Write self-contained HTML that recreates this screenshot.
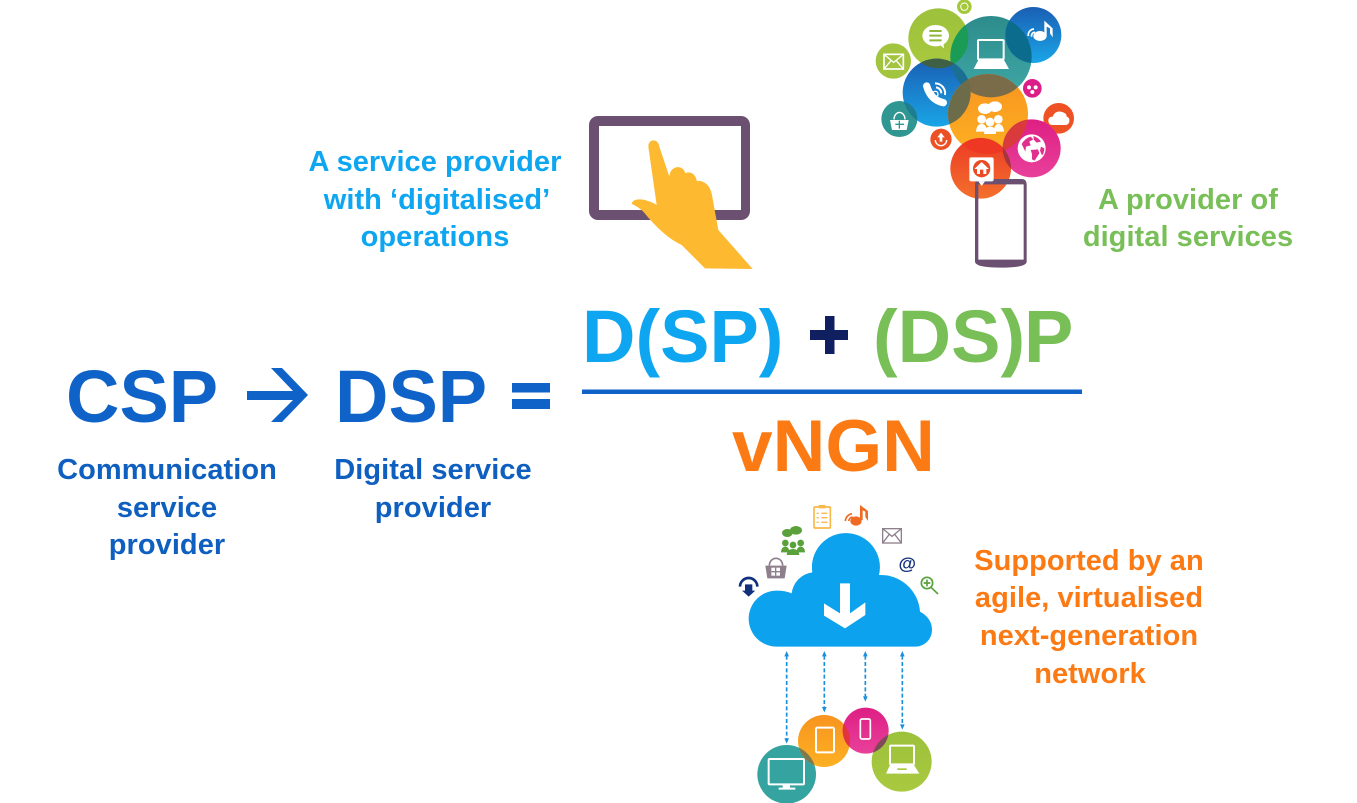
<!DOCTYPE html>
<html><head><meta charset="utf-8"><style>
html,body{margin:0;padding:0;background:#fff;width:1357px;height:803px;overflow:hidden}
svg{display:block}
text{font-family:"Liberation Sans",sans-serif;font-weight:bold}
.b{font-size:74px}.s{font-size:29px;letter-spacing:.05px;text-anchor:middle}
</style></head><body>
<svg width="1357" height="803" viewBox="0 0 1357 803" xmlns="http://www.w3.org/2000/svg">
<defs>
<linearGradient id="gG" x1="0" y1="0" x2="0" y2="1"><stop offset="0" stop-color="#9cc13b"/><stop offset="1" stop-color="#a9c93f"/></linearGradient>
<linearGradient id="gT" x1="0" y1="0" x2="0" y2="1"><stop offset="0" stop-color="#2d8c8c"/><stop offset="1" stop-color="#3fa8a6"/></linearGradient>
<linearGradient id="gB" x1="0" y1="0" x2="0" y2="1"><stop offset="0" stop-color="#1a5fb4"/><stop offset="1" stop-color="#1aa5e6"/></linearGradient>
<linearGradient id="gO" x1="0" y1="0" x2="0" y2="1"><stop offset="0" stop-color="#f79420"/><stop offset="1" stop-color="#fdb022"/></linearGradient>
<linearGradient id="gR" x1="0" y1="0" x2="0" y2="1"><stop offset="0" stop-color="#ec3a25"/><stop offset="1" stop-color="#f3702c"/></linearGradient>
<linearGradient id="gP" x1="0" y1="0" x2="0" y2="1"><stop offset="0" stop-color="#de1f84"/><stop offset="1" stop-color="#e8409a"/></linearGradient>
<clipPath id="cTeal"><circle cx="393" cy="170" r="122"/></clipPath>
<clipPath id="cPhone"><circle cx="230" cy="278" r="102"/></clipPath>
<clipPath id="cOrange"><circle cx="384" cy="342" r="120"/></clipPath>
<clipPath id="cPink"><circle cx="515" cy="445" r="87"/></clipPath>
<clipPath id="bOrange"><circle cx="282" cy="738" r="78"/></clipPath>
<clipPath id="bPink"><circle cx="407" cy="707" r="69"/></clipPath>
</defs>
<rect width="1357" height="803" fill="#fff"/>

<!-- tablet and hand -->
<rect x="589" y="116" width="161" height="104" rx="9" fill="#6b5072"/>
<rect x="599" y="126" width="142" height="84" fill="#fff"/>
<g transform="translate(580,105) scale(.33333)">
<path fill="#fdb92f" d="M205,125C205,100 235,100 238,125L268,215C270,180 310,178 316,205C335,195 350,215 350,228C375,225 390,245 395,265L415,375L518,492L375,490L305,420Q250,395 190,320Q170,302 155,297Q158,280 190,284Q215,290 230,300Z"/>
</g>

<!-- app bubble cluster -->
<g transform="translate(860,0) scale(.33333)">
<circle cx="313" cy="20" r="22" fill="#a5c73c"/>
<circle cx="235" cy="115" r="90" fill="url(#gG)"/>
<circle cx="393" cy="170" r="122" fill="url(#gT)"/>
<circle cx="520" cy="105" r="84" fill="url(#gB)"/>
<circle cx="100" cy="183" r="53" fill="#a3c43f"/>
<circle cx="118" cy="357" r="54" fill="#2f9692"/>
<circle cx="230" cy="278" r="102" fill="url(#gB)"/>
<circle cx="384" cy="342" r="120" fill="url(#gO)"/>
<circle cx="517" cy="265" r="28" fill="#dc1f88"/>
<circle cx="243" cy="418" r="32" fill="#ec5126"/>
<circle cx="596" cy="355" r="46" fill="#ee5224"/>
<circle cx="515" cy="445" r="87" fill="url(#gP)"/>
<rect x="350" y="545" width="145" height="240" fill="#fff"/>
<circle cx="362" cy="505" r="91" fill="url(#gR)"/>
<g clip-path="url(#cTeal)"><circle cx="235" cy="115" r="90" fill="#1a9c57"/><circle cx="520" cy="105" r="84" fill="#0c6c8e"/><circle cx="230" cy="278" r="102" fill="#1b6f92"/><circle cx="384" cy="342" r="120" fill="#7a6c48"/></g>
<g clip-path="url(#cPhone)"><circle cx="235" cy="115" r="90" fill="#3f6045"/><circle cx="118" cy="357" r="54" fill="#1f7d90"/><circle cx="384" cy="342" r="120" fill="#6d6c4a"/></g>
<g clip-path="url(#cOrange)"><circle cx="362" cy="505" r="91" fill="#ef3824"/><circle cx="515" cy="445" r="87" fill="#d93a3c"/></g>
<g clip-path="url(#cPink)"><circle cx="362" cy="505" r="91" fill="#a83440"/></g>

<!-- phone frame -->
<path fill-rule="evenodd" d="M345,555Q345,537 360,537H485Q500,537 500,555V785Q500,803 423,803Q345,803 345,785ZM355,553V779H491V553Z" fill="#6b5072"/>

<!-- icons -->
<circle cx="313" cy="20" r="11" fill="none" stroke="#fff" stroke-width="3"/>
<ellipse cx="227" cy="107" rx="40" ry="32" fill="#fff"/><path d="M235,130L252,145L250,122Z" fill="#fff"/>
<path d="M208,93H245M208,107H245M208,121H245" stroke="#8fb83a" stroke-width="6"/>
<rect x="354" y="120" width="77" height="58" rx="3" fill="none" stroke="#fff" stroke-width="6"/>
<path d="M355,180H432L447,207H341Z" fill="#fff"/>
<ellipse cx="540" cy="108" rx="20" ry="15" fill="#fff"/><path d="M553,105V62L578,85V112L570,100V85L560,80V108Z" fill="#fff"/>
<path d="M505,108A18,18 0 0 1 522,87M515,110A10,10 0 0 1 525,97" stroke="#fff" stroke-width="5" fill="none"/>
<rect x="72" y="163" width="58" height="44" fill="none" stroke="#fff" stroke-width="5"/><path d="M72,163L101,187L130,163M72,207L93,182M130,207L109,182" fill="none" stroke="#fff" stroke-width="4"/>
<path d="M200,258Q212,300 250,308" stroke="#fff" stroke-width="22" fill="none" stroke-linecap="round"/>
<path d="M225,250A30,30 0 0 1 255,285M228,262A18,18 0 0 1 244,280" stroke="#fff" stroke-width="6" fill="none"/><circle cx="226" cy="282" r="8" fill="none" stroke="#fff" stroke-width="4"/>
<path d="M90,360H146L140,390H96Z" fill="#fff"/><path d="M102,358A16,20 0 0 1 135,358" fill="none" stroke="#fff" stroke-width="4"/><path d="M118,362V386M106,373H132" stroke="#2f9692" stroke-width="4"/>
<ellipse cx="375" cy="326" rx="21" ry="16" fill="#fff"/><ellipse cx="405" cy="320" rx="21" ry="16" fill="#fff"/>
<circle cx="365" cy="358" r="13" fill="#fff"/><circle cx="415" cy="358" r="13" fill="#fff"/><circle cx="390" cy="366" r="13" fill="#fff"/>
<path d="M348,395Q350,372 365,372Q380,372 380,395ZM402,395Q402,372 415,372Q430,372 432,395ZM372,402Q373,380 390,380Q408,380 408,402Z" fill="#fff"/>
<circle cx="507" cy="262" r="6" fill="#fff"/><circle cx="527" cy="262" r="6" fill="#fff"/><circle cx="517" cy="276" r="6" fill="#fff"/>
<path d="M243,398L254,412H247V425H239V412H232Z" fill="#fff"/><path d="M226,420A17,17 0 0 0 260,420" fill="none" stroke="#fff" stroke-width="4"/>
<path d="M578,375Q565,375 565,362Q565,350 578,350Q585,332 602,335Q620,338 620,350Q630,352 628,365Q626,375 616,375Z" fill="#fff"/>
<circle cx="515" cy="445" r="42" fill="#fff"/>
<path d="M485,432Q496,414 512,410L520,418L508,425L512,436L498,440L496,455ZM520,408Q535,412 543,425L530,428L522,420ZM512,450L534,448L538,460L524,482L516,478L516,462ZM543,440L553,445Q553,458 546,466L540,452Z" fill="#e02f8c"/>
<rect x="328" y="472" width="73" height="72" rx="6" fill="#fff"/><path d="M355,544L365,558L375,544Z" fill="#fff"/>
<circle cx="365" cy="506" r="26" fill="#ec4a25"/><path d="M365,486L387,507H379V522H351V507H343Z" fill="#fff"/><rect x="360" y="509" width="10" height="13" fill="#ec4a25"/>
</g>

<!-- cloud group -->
<g transform="translate(730,495) scale(.33333)">
<path fill="#0ca2ee" d="M140,455A84,84 0 0 1 140,287Q165,287 185,295A72,72 0 0 1 247,232A102,102 0 1 1 447,240A118,118 0 0 1 570,350Q606,370 606,405A50,50 0 0 1 556,455Z"/>
<path fill="#fff" d="M282,325V362L345,400L406,360V322L360,355V265H330V355Z"/>

<path d="M170,482V735M283,482V645M406,482V610M517,482V695" stroke="#1a8fdc" stroke-width="5" stroke-dasharray="12 7" fill="none"/>
<path d="M163,484L170,468L177,484ZM163,730L170,746L177,730ZM276,484L283,468L290,484ZM276,636L283,652L290,636ZM399,484L406,468L413,484ZM399,604L406,620L413,604ZM510,484L517,468L524,484ZM510,688L517,704L524,688Z" fill="#1a8fdc"/>

<circle cx="170" cy="838" r="88" fill="#35a3a0"/>
<circle cx="282" cy="738" r="78" fill="url(#gO)"/>
<circle cx="515" cy="800" r="90" fill="url(#gG)"/>
<circle cx="407" cy="707" r="69" fill="url(#gP)"/>
<g clip-path="url(#bOrange)"><circle cx="170" cy="838" r="88" fill="#7e7a50"/><circle cx="407" cy="707" r="69" fill="#e3333c"/></g>
<g clip-path="url(#bPink)"><circle cx="515" cy="800" r="90" fill="#7d4a55"/></g>

<rect x="116" y="792" width="106" height="76" rx="3" fill="none" stroke="#fff" stroke-width="6"/><path d="M158,868H180V878H196V884H146V878H158Z" fill="#fff"/>
<rect x="258" y="698" width="54" height="74" rx="4" fill="none" stroke="#fff" stroke-width="6"/>
<rect x="391" y="672" width="30" height="60" rx="5" fill="none" stroke="#fff" stroke-width="5"/>
<rect x="480" y="752" width="72" height="56" rx="3" fill="none" stroke="#fff" stroke-width="6"/><path d="M480,810H552L568,836H468Z" fill="#fff"/><rect x="502" y="820" width="28" height="5" fill="#a9c93f"/>

<path d="M30,275A25,25 0 0 1 82,275" fill="none" stroke="#13307c" stroke-width="8"/><path d="M45,268H67V287H76L56,305L36,287H45Z" fill="#13307c"/>
<path d="M106,212H170L164,250H112Z" fill="#8d7f8c"/><path d="M118,212A20,22 0 0 1 158,212" fill="none" stroke="#8d7f8c" stroke-width="5"/><rect x="124" y="218" width="26" height="24" fill="#fff"/><path d="M137,218V242M124,230H150" stroke="#8d7f8c" stroke-width="4"/>
<ellipse cx="172" cy="114" rx="16" ry="12" fill="#5aa13c"/><ellipse cx="198" cy="106" rx="18" ry="13" fill="#5aa13c"/>
<circle cx="166" cy="144" r="10" fill="#5aa13c"/><circle cx="212" cy="144" r="10" fill="#5aa13c"/><circle cx="189" cy="150" r="10" fill="#5aa13c"/>
<path d="M153,172Q154,155 166,155Q178,155 178,172ZM200,172Q200,155 212,155Q224,155 225,172ZM170,180Q172,162 189,162Q206,162 208,180Z" fill="#5aa13c"/>
<rect x="252" y="36" width="49" height="63" rx="3" fill="#fff" stroke="#f9b84a" stroke-width="5"/><rect x="266" y="30" width="20" height="10" fill="#f9b84a"/>
<path d="M274,55H292M274,68H292M274,82H292M260,55H266M260,68H266M260,82H266" stroke="#f9b84a" stroke-width="4"/>
<ellipse cx="378" cy="78" rx="17" ry="14" fill="#ef6a22"/><path d="M390,75V30L414,48V78L406,66V50L398,46V75Z" fill="#ef6a22"/>
<path d="M346,78A24,24 0 0 1 366,56M356,78A14,14 0 0 1 368,66" fill="none" stroke="#ef6a22" stroke-width="5"/>
<rect x="458" y="101" width="56" height="43" fill="#fff" stroke="#8d7f8c" stroke-width="4"/><path d="M458,101L486,124L514,101M458,144L478,118M514,144L494,118" fill="none" stroke="#8d7f8c" stroke-width="4"/>
<text x="532" y="224" fill="#13307c" text-anchor="middle" style="font-size:54px">@</text>
<circle cx="591" cy="264" r="17" fill="#fff" stroke="#5aa13c" stroke-width="5"/><path d="M603,277L624,297" stroke="#5aa13c" stroke-width="5"/><path d="M591,254V274M581,264H601" stroke="#5aa13c" stroke-width="5"/>
</g>

<!-- formula -->
<text class="b" x="66" y="422" fill="#0f62c8">CSP</text>
<polygon points="271,368 282,368 308,395 282,422 271,422 293,400 247,400 247,391 293,391" fill="#0f62c8"/>
<text class="b" x="335" y="422" fill="#0f62c8">DSP</text>
<rect x="512" y="383" width="38" height="9.5" fill="#0f62c8"/><rect x="512" y="399" width="38" height="10" fill="#0f62c8"/>
<text class="b" x="582" y="362" fill="#0ea6f0">D(SP)</text>
<rect x="825" y="316" width="9.5" height="38" fill="#0f1f60"/><rect x="810" y="330" width="38" height="10" fill="#0f1f60"/>
<text class="b" x="873" y="362" fill="#79bf58">(DS)</text>
<text class="b" x="1024" y="362" fill="#79bf58">P</text>
<rect x="582" y="389.5" width="500" height="4.5" fill="#0f62c8"/>
<text x="732" y="471" fill="#fb7a14" style="font-size:73px">vNGN</text>

<g fill="#0f5fc0">
<text class="s" x="167" y="479">Communication</text>
<text class="s" x="167" y="517">service</text>
<text class="s" x="167" y="554">provider</text>
<text class="s" x="433" y="479">Digital service</text>
<text class="s" x="433" y="517">provider</text>
</g>
<g fill="#0ea6f0">
<text class="s" x="435" y="171">A service provider</text>
<text class="s" x="437" y="209">with ‘digitalised’</text>
<text class="s" x="435" y="246">operations</text>
</g>
<g fill="#79bf58">
<text class="s" x="1188" y="209">A provider of</text>
<text class="s" x="1188" y="246">digital services</text>
</g>
<g fill="#fb7a14">
<text class="s" x="1089" y="570">Supported by an</text>
<text class="s" x="1089" y="607">agile, virtualised</text>
<text class="s" x="1089" y="645">next-generation</text>
<text class="s" x="1090" y="683">network</text>
</g>
</svg>
</body></html>
